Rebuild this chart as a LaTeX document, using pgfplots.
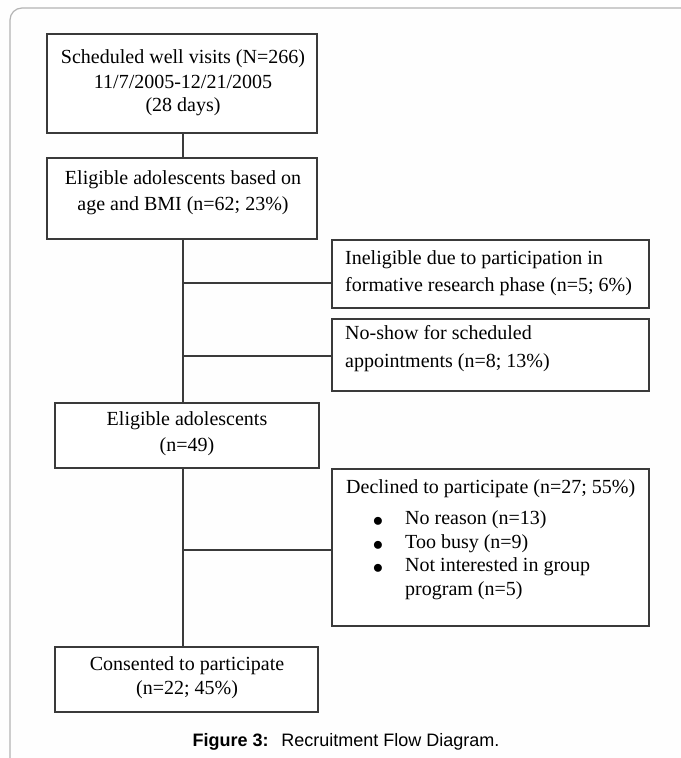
\documentclass[border=0pt]{standalone}
\usepackage{pgfplots}
\pgfplotsset{compat=1.18}
\usepackage{fontspec}
\setmainfont{Liberation Serif}
\newfontfamily\arialfont{Liberation Sans}
\definecolor{boxc}{HTML}{3A3A3A}
\definecolor{framec}{HTML}{B4B4B4}
\definecolor{bgc}{HTML}{FEFEFE}
\tikzset{txt/.style={font=\fontsize{20bp}{24bp}\selectfont,inner sep=0pt,text height=0.68em,text depth=0.22em}}
\begin{document}
\begin{tikzpicture}
\begin{axis}[width=681bp,height=758bp,scale only axis,
  xmin=0,xmax=681,ymin=0,ymax=758,y dir=reverse,hide axis,clip=true,
  every axis plot/.append style={line cap=rect}]
% background
\addplot[draw=none,fill=bgc] coordinates {(0,0)(681,0)(681,758)(0,758)(0,0)};
% outer frame
\addplot[framec,line width=1.2bp,rounded corners=12bp,line cap=butt] coordinates {(10,770)(10,8)(700,8)};
% connector lines
\addplot[boxc,line width=1.2bp] coordinates {(183,133)(183,647)};
\addplot[boxc,line width=1.2bp] coordinates {(183,283)(332,283)};
\addplot[boxc,line width=1.2bp] coordinates {(183,356)(332,356)};
\addplot[boxc,line width=1.2bp] coordinates {(183,550)(332,550)};
% boxes
\addplot[boxc,line width=1.3bp,fill=white] coordinates {(47,34)(317,34)(317,133)(47,133)(47,34)};
\addplot[boxc,line width=1.3bp,fill=white] coordinates {(47,158)(317,158)(317,239)(47,239)(47,158)};
\addplot[boxc,line width=1.3bp,fill=white] coordinates {(332,240)(649,240)(649,308)(332,308)(332,240)};
\addplot[boxc,line width=1.3bp,fill=white] coordinates {(332,319)(649,319)(649,391)(332,391)(332,319)};
\addplot[boxc,line width=1.3bp,fill=white] coordinates {(55,403)(319,403)(319,468)(55,468)(55,403)};
\addplot[boxc,line width=1.3bp,fill=white] coordinates {(332,469)(649,469)(649,626)(332,626)(332,469)};
\addplot[boxc,line width=1.3bp,fill=white] coordinates {(55,647)(318,647)(318,712)(55,712)(55,647)};
% texts
\node[txt] at (axis cs:183,61) {Scheduled well visits (N=266)};
\node[txt] at (axis cs:183,86) {11/7/2005-12/21/2005};
\node[txt] at (axis cs:183,109) {(28 days)};
\node[txt] at (axis cs:183,182) {Eligible adolescents based on};
\node[txt] at (axis cs:183,208) {age and BMI (n=62; 23\%)};
\node[txt,anchor=west] at (axis cs:345,262) {Ineligible due to participation in};
\node[txt,anchor=west] at (axis cs:345,289) {formative research phase (n=5; 6\%)};
\node[txt,anchor=west] at (axis cs:345,337) {No-show for scheduled};
\node[txt,anchor=west] at (axis cs:345,365) {appointments (n=8; 13\%)};
\node[txt] at (axis cs:187,423) {Eligible adolescents};
\node[txt] at (axis cs:187,449) {(n=49)};
\node[txt,anchor=west] at (axis cs:346,491) {Declined to participate (n=27; 55\%)};
\node[txt] at (axis cs:378,524) {$\bullet$};
\node[txt] at (axis cs:378,548) {$\bullet$};
\node[txt] at (axis cs:378,571) {$\bullet$};
\node[txt,anchor=west] at (axis cs:405,522) {No reason (n=13)};
\node[txt,anchor=west] at (axis cs:405,546) {Too busy (n=9)};
\node[txt,anchor=west] at (axis cs:405,569) {Not interested in group};
\node[txt,anchor=west] at (axis cs:405,593) {program (n=5)};
\node[txt] at (axis cs:187,668) {Consented to participate};
\node[txt] at (axis cs:187,692) {(n=22; 45\%)};
\node[font=\arialfont\fontsize{18bp}{21bp}\selectfont,inner sep=0pt] at (axis cs:346,742) {\textbf{Figure 3:}\hspace{0.7em}Recruitment Flow Diagram.};
\end{axis}
\end{tikzpicture}
\end{document}
